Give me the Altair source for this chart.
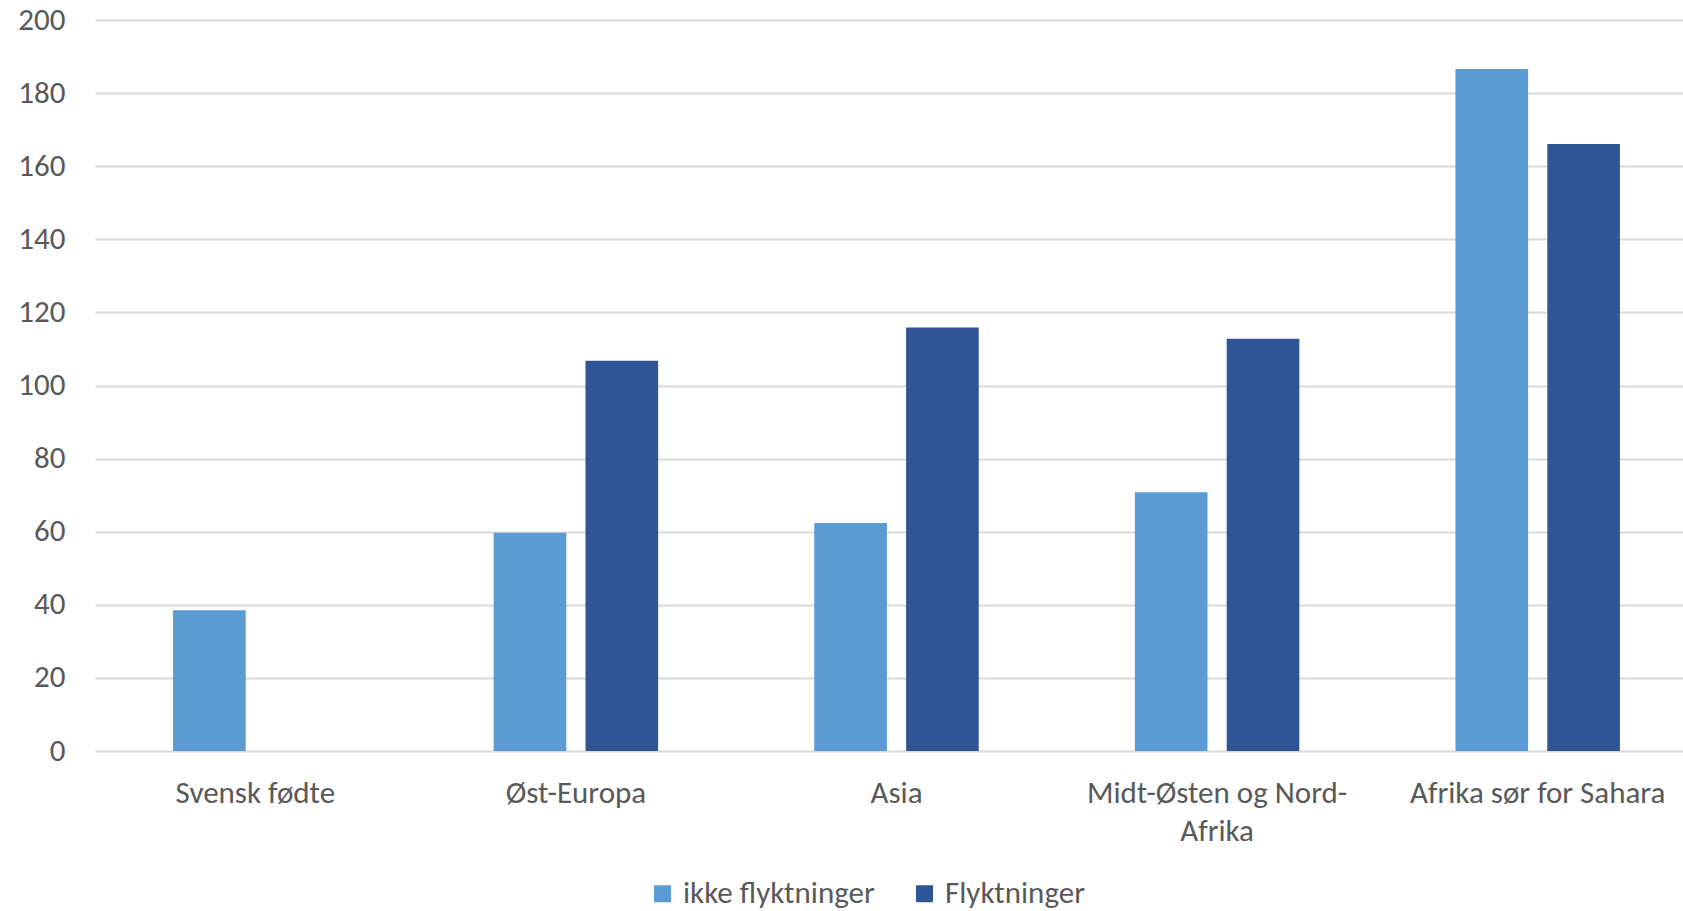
import altair as alt
import pandas as pd

# Regions and the two groups compared in each
regions = ["Svensk fødte", "Øst-Europa", "Asia", "Midt-Østen og Nord-Afrika", "Afrika sør for Sahara"]
series = ["ikke flyktninger", "Flyktninger"]
ikke_flyktninger = [38.5, 59.7, 62.4, 70.8, 186.6]
flyktninger = [None, 106.8, 115.9, 112.8, 166.1]
colors = ["#5B9BD5", "#2F5597"]
y_ticks = [0, 20, 40, 60, 80, 100, 120, 140, 160, 180, 200]

rows = []
for r, a, b in zip(regions, ikke_flyktninger, flyktninger):
    rows.append({"region": r, "gruppe": series[0], "verdi": a})
    if b is not None:
        rows.append({"region": r, "gruppe": series[1], "verdi": b})
df = pd.DataFrame(rows)

FONT = "Carlito, Lato, sans-serif"
TEXT = "#595959"
SIZE = 31

label_expr = ("datum.label == 'Midt-Østen og Nord-Afrika' ? "
              "['Midt-Østen og Nord-', 'Afrika'] : datum.label")

chart = (
    alt.Chart(df)
    .mark_bar()
    .encode(
        x=alt.X(
            "region:N",
            sort=regions,
            scale=alt.Scale(domain=regions, range=[0, 1603],
                            paddingInner=0.487, paddingOuter=0.2435),
            axis=alt.Axis(
                title=None,
                labelAngle=0,
                labelExpr=label_expr,
                labelFont=FONT,
                labelFontSize=SIZE,
                labelColor=TEXT,
                labelPadding=27,
                labelLineHeight=38,
                labelLimit=400,
                ticks=False,
                domain=False,
                grid=False,
            ),
        ),
        xOffset=alt.XOffset(
            "gruppe:N",
            scale=alt.Scale(domain=series, paddingInner=0.209, paddingOuter=0),
        ),
        y=alt.Y(
            "verdi:Q",
            scale=alt.Scale(domain=[0, 200], nice=False),
            axis=alt.Axis(
                title=None,
                values=y_ticks,
                labelFont=FONT,
                labelFontSize=SIZE,
                labelColor=TEXT,
                labelPadding=30,
                ticks=False,
                domain=False,
                gridColor="#D9D9D9",
                gridWidth=2,
            ),
        ),
        color=alt.Color(
            "gruppe:N",
            scale=alt.Scale(domain=series, range=colors),
            legend=alt.Legend(
                title=None,
                orient="none",
                direction="horizontal",
                legendX=552,
                legendY=858,
                symbolType="square",
                symbolSize=289,
                symbolStrokeWidth=0,
                labelFont=FONT,
                labelFontSize=SIZE,
                labelColor=TEXT,
                labelOffset=5,
                labelLimit=400,
                columnPadding=34,
                padding=0,
            ),
        ),
    )
    .properties(
        width=1588,
        height=731,
        background="white",
        autosize=alt.AutoSizeParams(type="none"),
        padding={"left": 95, "top": 20, "right": 0, "bottom": 160},
    )
    .configure_view(stroke=None, strokeWidth=0)
)

chart.save("out.html", embed_options={"renderer": "svg", "actions": False})
